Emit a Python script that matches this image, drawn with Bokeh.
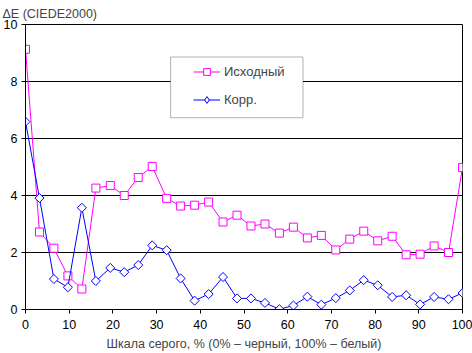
import numpy as np
from bokeh.plotting import figure
from bokeh.models import Range1d, FixedTicker, Legend, LegendItem, BoxAnnotation
from bokeh.embed import file_html
from bokeh.resources import INLINE

# gray level, %
gray = [0, 3.2, 6.5, 9.7, 12.9, 16.1, 19.4, 22.6, 25.8, 29.0, 32.3, 35.5, 38.7, 41.9,
        45.2, 48.4, 51.6, 54.8, 58.1, 61.3, 64.5, 67.7, 71.0, 74.2, 77.4, 80.6, 83.9,
        87.1, 90.3, 93.5, 96.8, 100]
# dE CIEDE2000, original
de_orig = [9.13, 2.72, 2.15, 1.18, 0.72, 4.26, 4.35, 4.00, 4.63, 5.02, 3.90, 3.63, 3.66,
           3.77, 3.07, 3.31, 2.93, 3.00, 2.68, 2.89, 2.51, 2.60, 2.09, 2.47, 2.75, 2.41,
           2.57, 1.92, 1.94, 2.23, 2.00, 4.98]
# dE CIEDE2000, corrected
de_corr = [6.59, 3.91, 1.07, 0.78, 3.57, 1.00, 1.46, 1.31, 1.56, 2.25, 2.08, 1.09, 0.31,
           0.54, 1.14, 0.39, 0.39, 0.23, 0.01, 0.14, 0.45, 0.17, 0.40, 0.67, 1.03, 0.85,
           0.44, 0.50, 0.18, 0.44, 0.36, 0.58]
x_ticks = [0, 10, 20, 30, 40, 50, 60, 70, 80, 90, 100]
y_ticks = [0, 2, 4, 6, 8, 10]
series_names = ["Исходный", "Корр."]
title_text = "ΔE (CIEDE2000)"
x_title = "Шкала серого, % (0% – черный, 100% – белый)"

FONT = "Liberation Sans"

p = figure(width=472, height=353, output_backend="svg", toolbar_location=None,
           x_range=Range1d(0, 100), y_range=Range1d(0, 10),
           min_border_left=23, min_border_right=10, min_border_top=24, min_border_bottom=42)
p.background_fill_color = "white"
p.border_fill_color = "white"
p.outline_line_color = "black"
p.outline_line_width = 1

p.title.text = title_text
p.title.align = "left"
p.title.offset = -23
p.title.text_font = FONT
p.title.text_font_size = "12.5px"
p.title.text_font_style = "normal"
p.title.standoff = 7

for ax in (p.xaxis[0], p.yaxis[0]):
    ax.axis_line_color = "black"
    ax.major_tick_line_color = "black"
    ax.major_tick_out = 4
    ax.major_tick_in = 0
    ax.minor_tick_line_color = None
    ax.major_label_text_font = FONT
    ax.major_label_text_font_size = "12.5px"
    ax.major_label_text_color = "black"
    ax.major_label_standoff = 4

p.xaxis.major_label_standoff = 6
p.xaxis.ticker = FixedTicker(ticks=x_ticks)
p.yaxis.ticker = FixedTicker(ticks=y_ticks)
p.xaxis.axis_label = x_title
p.xaxis.axis_label_text_font = FONT
p.xaxis.axis_label_text_font_size = "12.5px"
p.xaxis.axis_label_text_font_style = "normal"
p.xaxis.axis_label_standoff = 5

p.xgrid.grid_line_color = None
p.ygrid.ticker = FixedTicker(ticks=y_ticks)
p.ygrid.grid_line_color = "black"
p.ygrid.grid_line_width = 1

# legend box (decoration)
box = BoxAnnotation(left=33.2, right=63.5, top=8.86, bottom=6.73,
                    fill_color="white", fill_alpha=1, line_color="black", line_width=1)
p.add_layout(box)

l1 = p.line(gray, de_orig, line_color="#FF00FF", line_width=1)
m1 = p.scatter(gray, de_orig, marker="square", size=8, line_color="#FF00FF",
               fill_color="white", line_width=1)
l2 = p.line(gray, de_corr, line_color="#0000FF", line_width=1)
m2 = p.scatter(gray, de_corr, marker="square", angle=np.pi / 4, size=6.4,
               line_color="#0000FF", fill_color="white", line_width=1)
# legend-only diamond swatch (legend swatches ignore marker angle); NaN -> not drawn in plot
m2_leg = p.scatter([np.nan], [np.nan], marker="diamond", size=9, line_color="#0000FF",
                   fill_color="white", line_width=1)

legend = Legend(items=[LegendItem(label=series_names[0], renderers=[l1, m1]),
                       LegendItem(label=series_names[1], renderers=[l2, m2_leg])],
                location=(168, 201), padding=0, spacing=11, glyph_height=17,
                label_height=17, glyph_width=27, label_standoff=4,
                border_line_color=None, background_fill_alpha=0,
                label_text_font=FONT, label_text_font_size="13px")
p.add_layout(legend)

open("out.html", "w").write(file_html(p, INLINE))
